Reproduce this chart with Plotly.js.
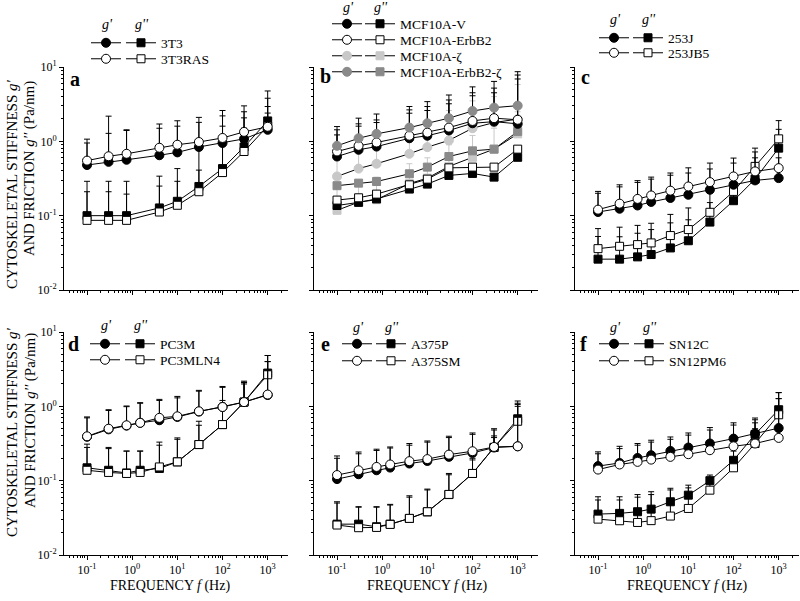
<!DOCTYPE html>
<html><head><meta charset="utf-8">
<script src="https://cdn.plot.ly/plotly-3.0.1.min.js"></script>
<style>html,body{margin:0;padding:0;background:#fff}#chart{width:800px;height:601px}</style>
</head><body><div id="chart"></div>
<script>
// ---------------- DATA ----------------
const FREQ9  = [0.1, 0.3, 0.75, 4, 10, 30, 100, 300, 1000];
const FREQ10 = [0.1, 0.3, 0.75, 1.5, 4, 10, 30, 100, 300, 1000];
const X_TICKS = [0.1, 1, 10, 100, 1000];
const X_TICKTEXT = ['10<sup>-1</sup>','10<sup>0</sup>','10<sup>1</sup>','10<sup>2</sup>','10<sup>3</sup>'];
const Y_TICKS = [0.01, 0.1, 1, 10];
const Y_TICKTEXT = ['10<sup>-2</sup>','10<sup>-1</sup>','10<sup>0</sup>','10<sup>1</sup>'];
const PANEL_LETTERS = ['a','b','c','d','e','f'];

// panel a
const a_3T3_gp        = [0.48,0.53,0.565,0.65,0.71,0.84,0.95,1.08,1.43];
const a_3T3_gp_top    = [0.95,1.28,1.40,1.5,1.6,1.8,2.2,2.07,3.8];
const a_3T3RAS_gp     = [0.55,0.63,0.68,0.82,0.90,0.98,1.11,1.34,1.57];
const a_3T3RAS_gp_top = [1.07,2.18,1.43,1.71,1.89,2.1,2.6,3.0,4.76];
const a_3T3_gpp        = [0.10,0.10,0.10,0.127,0.156,0.247,0.43,0.84,1.88];
const a_3T3_gpp_top    = [0.29,0.29,0.29,0.34,0.43,0.77,1.6,2.5,2.94];
const a_3T3RAS_gpp     = [0.0865,0.0865,0.0865,0.112,0.138,0.21,0.38,0.73,1.6];
const a_3T3RAS_gpp_top = [0.21,0.21,0.195,0.25,0.29,0.41,1.0,1.5,2.4];

// panel b
const b_V_gp          = [0.625,0.77,0.85,1.10,1.19,1.40,1.75,1.84,1.72];
const b_V_gp_top      = [1.22,1.6,1.79,2.39,2.6,3.2,4.1,4.5,6.9];
const b_ErbB2_gp      = [0.73,0.87,0.965,1.19,1.31,1.53,1.88,2.05,1.95];
const b_ErbB2_gp_top  = [1.43,1.72,1.94,2.65,2.94,3.6,4.5,5.2,7.8];
const b_Z_gp          = [0.337,0.43,0.50,0.68,0.835,1.03,1.50,1.79,1.99];
const b_Z_gp_top      = [0.6,0.9,1.05,1.45,1.7,2.6,3.5,4.0,5.8];
const b_ErbB2Z_gp     = [0.87,1.10,1.26,1.53,1.75,2.05,2.56,2.84,3.02];
const b_ErbB2Z_gp_top = [1.58,2.05,2.33,2.94,3.42,4.2,5.4,6.4,8.65];
const b_V_gpp         = [0.137,0.151,0.168,0.228,0.266,0.348,0.37,0.33,0.61];
const b_ErbB2_gpp     = [0.162,0.174,0.195,0.26,0.31,0.44,0.45,0.45,0.785];
const b_Z_gpp         = [0.118,0.152,0.164,0.27,0.32,0.46,0.61,0.785,1.26];
const b_Z_gpp_top     = [0.25,0.3,0.33,0.5,0.6,0.9,1.2,1.5,2.5];
const b_ErbB2Z_gpp    = [0.253,0.274,0.288,0.366,0.45,0.625,0.745,0.785,1.36];

// panel c
const c_253J_gp       = [0.112,0.124,0.137,0.153,0.173,0.191,0.223,0.261,0.298,0.32];
const c_253J_gp_top   = [0.20,0.244,0.28,0.31,0.35,0.375,0.425,0.51,0.6,0.6];
const c_253JB5_gp     = [0.1205,0.145,0.168,0.187,0.217,0.247,0.283,0.337,0.394,0.436];
const c_253JB5_gp_top = [0.212,0.26,0.296,0.33,0.375,0.44,0.51,0.595,0.72,0.75];
const c_253J_gpp      = [0.026,0.026,0.0279,0.030,0.0368,0.046,0.082,0.159,0.31,0.81];
const c_253J_gpp_top  = [0.0525,0.052,0.058,0.065,0.08,0.088,0.15,0.25,0.5,1.45];
const c_253JB5_gpp    = [0.036,0.0387,0.0408,0.043,0.054,0.065,0.111,0.212,0.46,1.08];
const c_253JB5_gpp_top= [0.067,0.07,0.074,0.079,0.104,0.127,0.247,0.35,0.81,1.9];

// panel d
const d_PC3M_gp        = [0.39,0.49,0.55,0.60,0.65,0.72,0.85,0.98,1.14,1.42];
const d_PC3M_gp_top    = [0.70,0.88,0.99,1.10,1.20,1.30,1.60,1.80,2.10,4.0];
const d_PC3MLN4_gp     = [0.395,0.50,0.556,0.60,0.70,0.734,0.857,0.98,1.14,1.44];
const d_PC3MLN4_gp_top = [0.72,0.90,1.01,1.12,1.24,1.36,1.64,1.85,2.18,4.83];
const d_PC3M_gpp       = [0.149,0.138,0.127,0.138,0.146,0.179,0.306,0.568,1.14,2.8];
const d_PC3M_gpp_top   = [0.31,0.28,0.25,0.25,0.33,0.376,0.63,1.2,2.1,4.83];
const d_PC3MLN4_gpp    = [0.138,0.129,0.125,0.129,0.153,0.179,0.306,0.568,1.14,2.66];
const d_PC3MLN4_gpp_top= [0.28,0.27,0.25,0.25,0.30,0.36,0.556,1.1,2.0,4.0];

// panel e
const e_A375P_gp       = [0.105,0.122,0.138,0.150,0.17,0.184,0.209,0.236,0.279,0.29];
const e_A375P_gp_top   = [0.20,0.23,0.255,0.275,0.30,0.33,0.38,0.42,0.48,1.0];
const e_A375SM_gp      = [0.119,0.138,0.153,0.165,0.183,0.195,0.224,0.249,0.284,0.29];
const e_A375SM_gp_top  = [0.215,0.243,0.265,0.284,0.316,0.342,0.396,0.438,0.5,1.06];
const e_A375P_gpp      = [0.026,0.026,0.024,0.026,0.031,0.038,0.065,0.125,0.28,0.68];
const e_A375P_gpp_top  = [0.052,0.0446,0.0446,0.048,0.0626,0.077,0.125,0.2,0.4,1.18];
const e_A375SM_gpp     = [0.0253,0.0233,0.0235,0.0258,0.0311,0.0382,0.0653,0.125,0.28,0.63];
const e_A375SM_gpp_top = [0.05,0.044,0.044,0.047,0.06,0.075,0.12,0.19,0.38,1.1];

// panel f
const f_SN12C_gp        = [0.157,0.173,0.202,0.22,0.251,0.279,0.316,0.368,0.43,0.51];
const f_SN12C_gp_top    = [0.244,0.29,0.316,0.35,0.387,0.438,0.518,0.6,0.696,1.53];
const f_SN12PM6_gp      = [0.141,0.165,0.179,0.192,0.209,0.227,0.257,0.29,0.316,0.376];
const f_SN12PM6_gp_top  = [0.23,0.27,0.30,0.33,0.36,0.41,0.48,0.56,0.66,1.27];
const f_SN12C_gpp       = [0.0355,0.0363,0.0382,0.0414,0.052,0.0638,0.10,0.188,0.42,0.90];
const f_SN12C_gpp_top   = [0.0607,0.0607,0.065,0.071,0.079,0.087,0.119,0.3,0.6,1.53];
const f_SN12PM6_gpp     = [0.0304,0.0289,0.0274,0.029,0.0334,0.0423,0.0745,0.149,0.316,0.77];
const f_SN12PM6_gpp_top = [0.055,0.055,0.06,0.065,0.075,0.08,0.11,0.25,0.5,1.27];

// ---------------- STYLE / LAYOUT ----------------
const W = 800, H = 601;
const FONT = "'Liberation Serif', 'Times New Roman', Times, serif";
const px = v => v / W, py = v => 1 - v / H;
const BLACK = '#000', WHITE = '#fff', DGRAY = '#8a8a8a', LGRAY = '#c8c8c8';

const XDOM = [[64,288],[314,538],[575,799]];
const YDOM = [[67,290],[332,555]];
const LEG = [
  {cols:[106,141], rows:[42,58],        head:[25]},
  {cols:[347,380], rows:[23,39,55,71],  head:[8]},
  {cols:[614,648], rows:[37,52],        head:[20]},
  {cols:[105,140], rows:[343,359],      head:[325]},
  {cols:[357,391], rows:[343,360],      head:[327]},
  {cols:[614,649], rows:[343,360],      head:[327]}
];
const LETTER_POS = [[75,79],[325,76],[585,77],[73,344],[325,344],[583,344]];

const S = [
  [0, FREQ9, a_3T3_gpp, a_3T3_gpp_top, '3T3', 'square', BLACK, BLACK, 0, 1],
  [0, FREQ9, a_3T3RAS_gpp, a_3T3RAS_gpp_top, '3T3RAS', 'square', WHITE, BLACK, 1, 1],
  [0, FREQ9, a_3T3_gp, a_3T3_gp_top, '', 'circle', BLACK, BLACK, 0, 0],
  [0, FREQ9, a_3T3RAS_gp, a_3T3RAS_gp_top, '', 'circle', WHITE, BLACK, 1, 0],

  [1, FREQ9, b_Z_gp, b_Z_gp_top, '', 'circle', LGRAY, LGRAY, 2, 0],
  [1, FREQ9, b_Z_gpp, b_Z_gpp_top, 'MCF10A-\u03b6', 'square', LGRAY, LGRAY, 2, 1],
  [1, FREQ9, b_V_gpp, null, 'MCF10A-V', 'square', BLACK, BLACK, 0, 1],
  [1, FREQ9, b_ErbB2_gpp, null, 'MCF10A-ErbB2', 'square', WHITE, BLACK, 1, 1],
  [1, FREQ9, b_ErbB2Z_gpp, null, 'MCF10A-ErbB2-\u03b6', 'square', DGRAY, BLACK, 3, 1],
  [1, FREQ9, b_V_gp, b_V_gp_top, '', 'circle', BLACK, BLACK, 0, 0],
  [1, FREQ9, b_ErbB2_gp, b_ErbB2_gp_top, '', 'circle', WHITE, BLACK, 1, 0],
  [1, FREQ9, b_ErbB2Z_gp, b_ErbB2Z_gp_top, '', 'circle', DGRAY, BLACK, 3, 0],

  [2, FREQ10, c_253J_gpp, c_253J_gpp_top, '253J', 'square', BLACK, BLACK, 0, 1],
  [2, FREQ10, c_253JB5_gpp, c_253JB5_gpp_top, '253JB5', 'square', WHITE, BLACK, 1, 1],
  [2, FREQ10, c_253J_gp, c_253J_gp_top, '', 'circle', BLACK, BLACK, 0, 0],
  [2, FREQ10, c_253JB5_gp, c_253JB5_gp_top, '', 'circle', WHITE, BLACK, 1, 0],

  [3, FREQ10, d_PC3M_gpp, d_PC3M_gpp_top, 'PC3M', 'square', BLACK, BLACK, 0, 1],
  [3, FREQ10, d_PC3MLN4_gpp, d_PC3MLN4_gpp_top, 'PC3MLN4', 'square', WHITE, BLACK, 1, 1],
  [3, FREQ10, d_PC3M_gp, d_PC3M_gp_top, '', 'circle', BLACK, BLACK, 0, 0],
  [3, FREQ10, d_PC3MLN4_gp, d_PC3MLN4_gp_top, '', 'circle', WHITE, BLACK, 1, 0],

  [4, FREQ10, e_A375P_gpp, e_A375P_gpp_top, 'A375P', 'square', BLACK, BLACK, 0, 1],
  [4, FREQ10, e_A375SM_gpp, e_A375SM_gpp_top, 'A375SM', 'square', WHITE, BLACK, 1, 1],
  [4, FREQ10, e_A375P_gp, e_A375P_gp_top, '', 'circle', BLACK, BLACK, 0, 0],
  [4, FREQ10, e_A375SM_gp, e_A375SM_gp_top, '', 'circle', WHITE, BLACK, 1, 0],

  [5, FREQ10, f_SN12C_gpp, f_SN12C_gpp_top, 'SN12C', 'square', BLACK, BLACK, 0, 1],
  [5, FREQ10, f_SN12PM6_gpp, f_SN12PM6_gpp_top, 'SN12PM6', 'square', WHITE, BLACK, 1, 1],
  [5, FREQ10, f_SN12C_gp, f_SN12C_gp_top, '', 'circle', BLACK, BLACK, 0, 0],
  [5, FREQ10, f_SN12PM6_gp, f_SN12PM6_gp_top, '', 'circle', WHITE, BLACK, 1, 0]
];

const layout = {
  width: W, height: H, margin: {l:0, r:0, t:0, b:0},
  paper_bgcolor: '#fff', plot_bgcolor: 'rgba(0,0,0,0)',
  font: {family: FONT, color: '#000', size: 12},
  showlegend: true, annotations: []
};

const data = [];
S.forEach((s, i) => {
  const [p, x, y, top, name, sym, fill, ec, row, col] = s;
  const ax = p + 1;
  const legId = i === 0 ? 'legend' : 'legend' + (i + 1);
  const tr = {
    type: 'scatter', mode: 'lines+markers', x: x, y: y, name: name,
    xaxis: 'x' + (ax === 1 ? '' : ax), yaxis: 'y' + (ax === 1 ? '' : ax),
    legend: legId, showlegend: true, hoverinfo: 'skip',
    line: {color: BLACK, width: 1},
    marker: {symbol: sym, size: sym === 'circle' ? 9 : 8, color: fill,
             line: {color: (fill === LGRAY || fill === DGRAY) ? fill : BLACK, width: 1}}
  };
  if (top) {
    tr.error_y = {type: 'data', symmetric: false,
      array: top.map((t, k) => t - y[k]), arrayminus: y.map(() => 0),
      color: ec, thickness: 1, width: 3};
  }
  data.push(tr);
  const L = LEG[p];
  layout[legId] = {
    x: px(L.cols[col] - 20), y: py(L.rows[row] - 14.5), xanchor: 'left', yanchor: 'top',
    bgcolor: 'rgba(0,0,0,0)', borderwidth: 0, font: {family: FONT, size: 13.5, color: '#000'},
    itemwidth: 30
  };
});

for (let p = 0; p < 6; p++) {
  const ax = p + 1, colI = p % 3, rowI = Math.floor(p / 3);
  const xd = XDOM[colI], yd = YDOM[rowI];
  const common = {type: 'log', showline: true, linecolor: BLACK, linewidth: 1, mirror: false,
    ticks: 'outside', ticklen: 4, tickcolor: BLACK, tickwidth: 1, showgrid: false, zeroline: false,
    tickfont: {family: FONT, size: 12, color: '#000'}, tickmode: 'array',
    minor: {ticks: 'outside', ticklen: 2, tickcolor: BLACK, tickwidth: 1, dtick: 'D1', showgrid: false}};
  layout['xaxis' + (ax === 1 ? '' : ax)] = Object.assign({}, common, {
    domain: [px(xd[0]), px(xd[1])], range: [-1.51, 3.45], anchor: 'y' + (ax === 1 ? '' : ax),
    tickvals: X_TICKS, ticktext: X_TICKTEXT, showticklabels: rowI === 1});
  layout['yaxis' + (ax === 1 ? '' : ax)] = Object.assign({}, common, {
    domain: [py(yd[1]), py(yd[0])], range: [-2, 1], anchor: 'x' + (ax === 1 ? '' : ax),
    tickvals: Y_TICKS, ticktext: Y_TICKTEXT, showticklabels: colI === 0});
  layout.annotations.push({xref:'paper', yref:'paper', x: px(LETTER_POS[p][0]), y: py(LETTER_POS[p][1]),
    text: '<b>' + PANEL_LETTERS[p] + '</b>', showarrow: false, font: {family: FONT, size: 20, color: '#000'},
    xanchor: 'center', yanchor: 'middle'});
  const L = LEG[p];
  layout.annotations.push({xref:'paper', yref:'paper', x: px(L.cols[0] + 1), y: py(L.head[0]),
    text: "<i>g'</i>", showarrow: false, font: {family: FONT, size: 14}, xanchor: 'center', yanchor: 'middle'});
  layout.annotations.push({xref:'paper', yref:'paper', x: px(L.cols[1] + 1), y: py(L.head[0]),
    text: "<i>g''</i>", showarrow: false, font: {family: FONT, size: 14}, xanchor: 'center', yanchor: 'middle'});
}
[170, 427, 687].forEach(cx => layout.annotations.push({xref:'paper', yref:'paper', x: px(cx), y: py(586),
  text: 'FREQUENCY <i>f</i> (Hz)', showarrow: false, font: {family: FONT, size: 14}, xanchor: 'center', yanchor: 'middle'}));
// y titles: two separate lines per row
[[184, 169], [432, 421]].forEach(c => {
  layout.annotations.push({xref:'paper', yref:'paper', x: px(12), y: py(c[0]),
    text: "CYTOSKELETAL STIFFNESS <i>g'</i>", textangle: -90, showarrow: false,
    font: {family: FONT, size: 15}, xanchor: 'center', yanchor: 'middle'});
  layout.annotations.push({xref:'paper', yref:'paper', x: px(30), y: py(c[1]),
    text: "AND FRICTION <i>g''</i> (Pa/nm)", textangle: -90, showarrow: false,
    font: {family: FONT, size: 15}, xanchor: 'center', yanchor: 'middle'});
});

Plotly.newPlot('chart', data, layout, {staticPlot: true, displayModeBar: false});
</script>
</body></html>
